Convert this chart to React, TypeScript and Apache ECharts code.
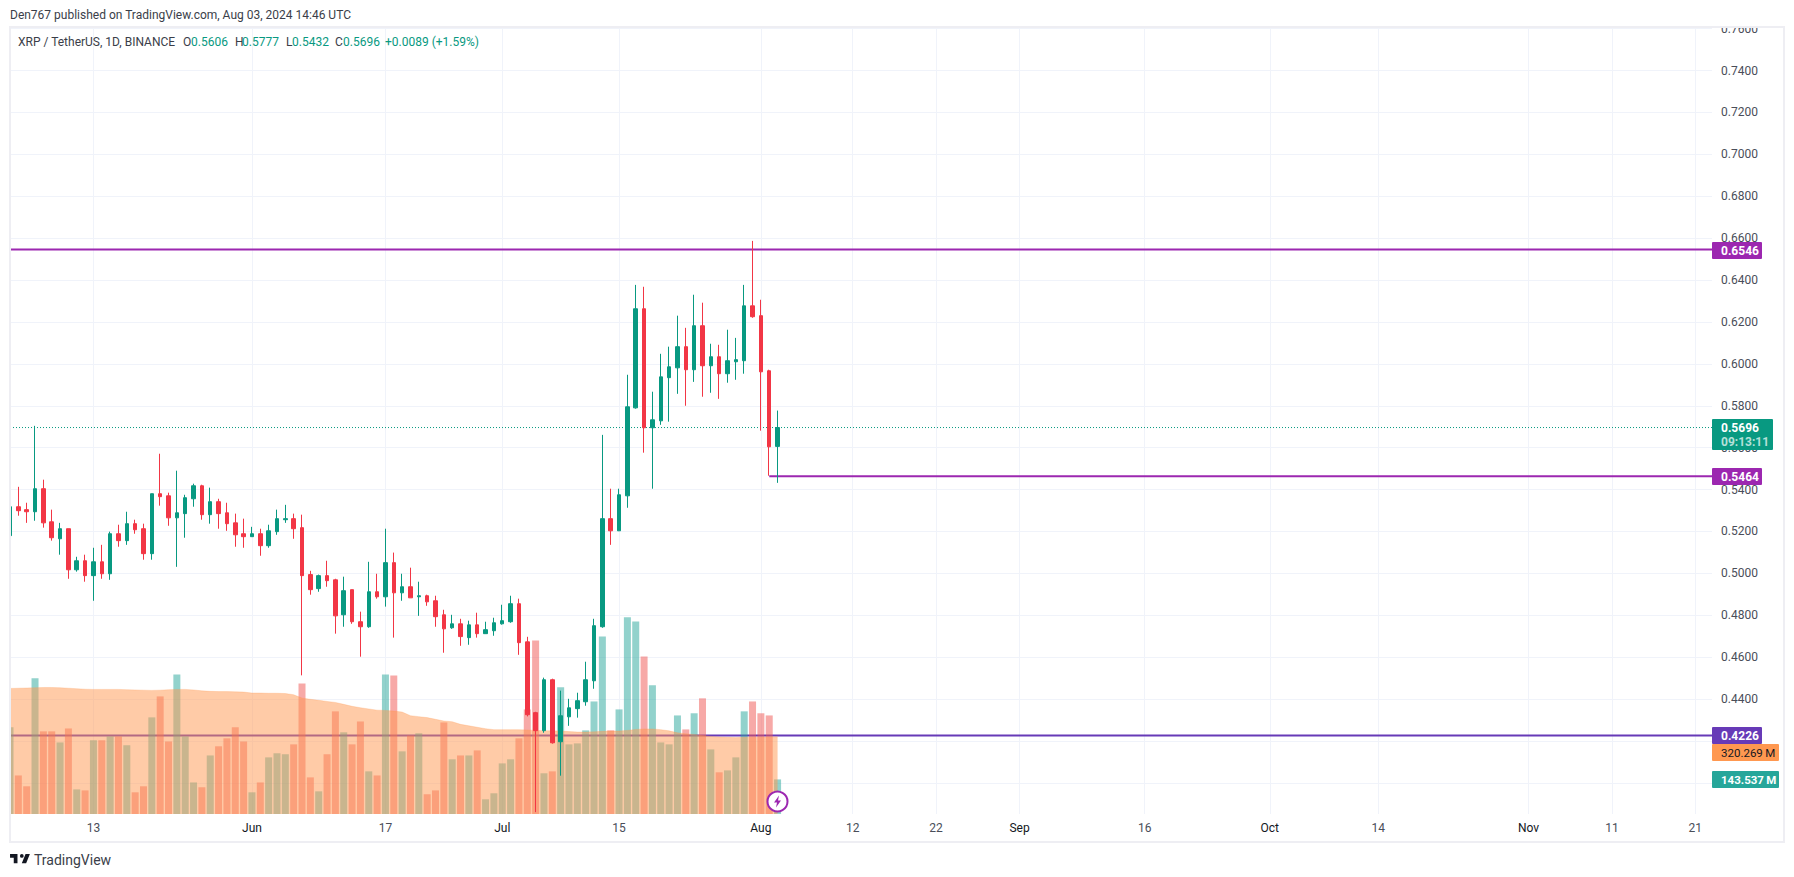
import React, { useEffect, useRef } from "react";
import * as echarts from "echarts";

const monthNames = ["2024-05", "2024-06", "2024-07", "2024-08", "2024-09", "2024-10", "2024-11"];
const monthDays = [31, 30, 31, 31, 30, 31, 30];
const categories: string[] = [];
monthNames.forEach((m, i) => {
  for (let d = 1; d <= monthDays[i]; d++) {
    if ((i === 0 && d < 3) || (i === 6 && d > 23)) continue;
    categories.push(`${m}-${String(d).padStart(2, "0")}`);
  }
});

const xTickLabels: Record<string, string> = {
  "2024-05-13": "13", "2024-06-01": "Jun", "2024-06-17": "17", "2024-07-01": "Jul", "2024-07-15": "15",
  "2024-08-01": "Aug", "2024-08-12": "12", "2024-08-22": "22", "2024-09-01": "Sep", "2024-09-16": "16",
  "2024-10-01": "Oct", "2024-10-14": "14", "2024-11-01": "Nov", "2024-11-11": "11", "2024-11-21": "21",
};

const openValues = [
  .5180,.5318,.5304,.5294,.5404,.5246,.5165,.5213,.5017,.5060,.4989,.5055,.4998,.5189,.5156,.5237,.5213,.5094,.5380,.5370,.5265,.5285,.5356,.5418,.5280,.5342,.5289,.5241,.5189,
  .5175,.5189,.5132,.5199,.5256,.5261,.5218,.4994,.4927,.4989,.4969,.4802,.4922,.4769,.4745,.4912,.4888,.5051,.4907,.4936,.4888,.4893,.4869,.4802,.4740,.4759,.4693,.4754,.4712,.4726,
  .4759,.4769,.4855,.4673,.4335,.4249,.4492,.4196,.4315,.4354,.4387,.4487,.4745,.5261,.5203,.5370,.5790,.6263,.5695,.5728,.5934,.5981,.6082,.5972,.6182,.5991,.6034,.5953,.6010,.6015,.6277,
  .6230,.5967,.5606,
];
const closeValues = [
  .5318,.5299,.5294,.5404,.5241,.5170,.5213,.5017,.5060,.4989,.5055,.4998,.5189,.5156,.5237,.5208,.5094,.5380,.5366,.5265,.5289,.5361,.5418,.5280,.5342,.5285,.5237,.5184,.5175,
  .5189,.5132,.5203,.5261,.5261,.5213,.4989,.4922,.4989,.4965,.4797,.4917,.4769,.4745,.4912,.4888,.5051,.4907,.4936,.4883,.4893,.4864,.4793,.4735,.4759,.4698,.4754,.4712,.4731,.4764,
  .4774,.4855,.4669,.4325,.4249,.4492,.4191,.4320,.4358,.4392,.4492,.4750,.5261,.5203,.5375,.5795,.6263,.5695,.5733,.5938,.5986,.6082,.5972,.6182,.5991,.6034,.5953,.6015,.6020,.6277,.6225,
  .5962,.5604,.5696,
];
const highValues = [
  .5370,.5413,.5337,.5704,.5447,.5304,.5241,.5213,.5079,.5089,.5122,.5136,.5199,.5232,.5294,.5256,.5237,.5380,.5571,.5385,.5490,.5375,.5428,.5423,.5409,.5356,.5337,.5285,.5261,
  .5222,.5213,.5232,.5304,.5327,.5285,.5280,.5012,.4994,.5060,.4974,.4984,.4922,.4817,.5055,.4998,.5213,.5099,.4998,.5027,.4960,.4898,.4893,.4826,.4802,.4783,.4774,.4812,.4769,.4788,
  .4850,.4893,.4879,.4697,.4339,.4502,.4497,.4440,.4401,.4430,.4578,.4783,.5661,.5404,.5404,.5948,.6377,.6368,.5867,.6048,.6082,.6230,.6172,.6330,.6292,.6096,.6091,.6163,.6124,.6377,.6587,
  .6306,.5972,.5777,
];
const lowValues = [
  .5146,.5275,.5241,.5251,.5218,.5156,.5089,.4974,.5008,.4960,.4869,.4974,.4969,.5127,.5136,.5189,.5065,.5065,.5323,.5227,.5031,.5170,.5318,.5256,.5237,.5213,.5203,.5127,.5122,
  .5175,.5084,.5122,.5184,.5241,.5165,.4513,.4898,.4912,.4936,.4712,.4745,.4759,.4602,.4740,.4879,.4841,.4693,.4869,.4883,.4797,.4845,.4745,.4621,.4735,.4654,.4659,.4693,.4712,.4702,
  .4755,.4764,.4611,.4317,.3860,.4239,.4187,.4034,.4272,.4311,.4368,.4449,.4740,.5136,.5203,.5313,.5786,.5576,.5404,.5709,.5724,.5857,.5800,.5914,.5843,.5862,.5833,.5910,.5924,.5953,.6220,
  .5681,.5466,.5432,
];
// volume, millions
const volumeValues = [
  360,160,115,563,343,343,297,355,102,98,306,306,322,322,285,90,115,401,488,301,579,322,131,111,243,281,314,360,301,
  90,131,235,252,248,289,542,152,94,248,426,339,289,384,177,160,579,575,260,326,335,82,98,380,227,243,243,264,61,86,
  210,227,314,434,720,169,177,526,289,293,347,467,737,347,434,816,799,654,534,297,289,409,351,418,480,268,173,181,235,426,467,
  418,409,143.537,
];
const volumeMA = [
  521,522,523,524,525,525,524,522,520,518,517,517,517,517,516,515,514,513,514,516,517,517,515,511,509,508,508,507,506,
  502,502,501,501,500,495,481,476,472,467,463,455,447,441,436,431,430,427,423,408,404,400,393,386,383,372,366,360,354,350,
  350,350,350,349,347,346,345,344,342,340,340,341,343,344,344,347,351,353,353,350,345,337,333,330,326,322,320,318,317,318,319,
  319,320,320.269,
];
const resistanceLevel = 0.6546;
const supportLevel = 0.5464;
const lowerLevel = 0.4226;
const lastPrice = 0.5696;

const FONT = "Roboto, sans-serif";
const TEXT = "#131722";
const UP = "#089981";
const DOWN = "#f23645";
const PURPLE = "#9c27b0";
const VIOLET = "#673ab7";
const GRID = "#f0f3fa";
const FRAME = "#eeeef3";

echarts.graphic.registerShape(
  "tvlogo",
  echarts.graphic.extendPath("M14 6H2v6h6v9h6V6zm14 15h-7l6-15h7l-6 15zm-7-9a3 3 0 1 0 0-6 3 3 0 0 0 0 6z", {})
);

const txt = (x: number, y: number, text: string, fill: string, fontSize = 12, fontWeight: any = "normal") => ({
  type: "text",
  x,
  y,
  z: 110,
  style: { text, fill, fontSize, fontWeight, fontFamily: FONT, textVerticalAlign: "middle", verticalAlign: "middle", align: "left" },
});
const box = (x: number, y: number, width: number, height: number, fill: string) => ({
  type: "rect",
  z: 105,
  shape: { x, y, width, height, r: 1 },
  style: { fill },
});
const hLine = (name: string, from: string, value: number, color: string, z: number, type: any = "solid", width = 2) => ({
  name,
  type: "line",
  xAxisIndex: 0,
  yAxisIndex: 0,
  z,
  symbol: "none",
  silent: true,
  lineStyle: { color, width, type },
  data: [[from, value], [categories[categories.length - 1], value]],
});

export default function App() {
  const ref = useRef<HTMLDivElement>(null);
  useEffect(() => {
    document.body.style.margin = "0";
    const chart = echarts.init(ref.current!, undefined, { renderer: "svg" });
    const first = categories[0];
    chart.setOption({
      animation: false,
      backgroundColor: "#ffffff",
      textStyle: { fontFamily: FONT },
      grid: [
        { left: 10, width: 1702, top: 28.7, height: 796 },
        { left: 10, width: 1702, top: 27, height: 787 },
      ],
      xAxis: [
        { type: "category", gridIndex: 0, data: categories, boundaryGap: false, show: false },
        {
          type: "category",
          gridIndex: 1,
          data: categories,
          boundaryGap: false,
          axisLine: { show: false },
          axisTick: { show: false },
          splitLine: {
            show: true,
            interval: (_i: number, v: string) => v in xTickLabels,
            lineStyle: { color: GRID, width: 1 },
          },
          axisLabel: {
            interval: (_i: number, v: string) => v in xTickLabels,
            formatter: (v: string) => {
              const t = xTickLabels[v];
              return /\d/.test(t) ? t : `{m|${t}}`;
            },
            color: "#4a4e59",
            fontSize: 12,
            fontFamily: FONT,
            margin: 8,
            rich: { m: { color: TEXT, fontSize: 12, fontFamily: FONT } },
          },
        },
      ],
      yAxis: [
        {
          type: "value",
          gridIndex: 0,
          position: "right",
          min: 0.38,
          max: 0.76,
          interval: 0.02,
          axisLine: { show: false },
          axisTick: { show: false },
          splitLine: { show: true, showMinLine: false, lineStyle: { color: GRID, width: 1 } },
          axisLabel: {
            showMinLabel: false,
            inside: false,
            margin: 9,
            align: "left",
            padding: [2, 0, 0, 0],
            color: "#4a4e59",
            fontSize: 12,
            fontFamily: FONT,
            formatter: (v: number) => v.toFixed(4),
          },
        },
        { type: "value", gridIndex: 1, min: 0, max: 3266, show: false },
      ],
      series: [
        hLine("Resistance 0.6546", first, resistanceLevel, PURPLE, 1),
        hLine("Support 0.5464", "2024-08-02", supportLevel, PURPLE, 1),
        hLine("Level 0.4226", first, lowerLevel, VIOLET, 1),
        hLine("Last price", first, lastPrice, UP, 1, [1, 2], 1),
        {
          name: "Volume",
          type: "bar",
          xAxisIndex: 1,
          yAxisIndex: 1,
          z: 2,
          barWidth: 7,
          data: volumeValues.map((v, i) => ({
            value: v,
            itemStyle: { color: closeValues[i] >= openValues[i] ? "rgba(38,166,154,0.5)" : "rgba(239,83,80,0.5)" },
          })),
        },
        {
          name: "Volume MA",
          type: "line",
          xAxisIndex: 1,
          yAxisIndex: 1,
          z: 3,
          symbol: "none",
          lineStyle: { color: "rgba(255,152,80,0.25)", width: 1 },
          areaStyle: { color: "#ff9850", opacity: 0.5 },
          data: volumeMA,
        },
        {
          name: "XRP / TetherUS",
          type: "candlestick",
          xAxisIndex: 0,
          yAxisIndex: 0,
          z: 4,
          barWidth: 4,
          clip: true,
          itemStyle: { color: UP, color0: DOWN, borderColor: UP, borderColor0: DOWN, borderWidth: 1 },
          data: openValues.map((o, i) => [o, closeValues[i], lowValues[i], highValues[i]]),
        },
      ],
      graphic: {
        z: 100,
        elements: [
          { type: "rect", z: 101, shape: { x: 1712, y: 0, width: 82, height: 26 }, style: { fill: "#fff" } },
          { type: "rect", z: 101, shape: { x: 0, y: 27, width: 10, height: 815 }, style: { fill: "#fff" } },
          { type: "rect", z: 102, shape: { x: 10, y: 27, width: 1774, height: 815 }, style: { fill: "none", stroke: FRAME, lineWidth: 2 } },
          txt(10, 15, "Den767 published on TradingView.com, Aug 03, 2024 14:46 UTC", "#3a3e49"),
          txt(18, 42, "XRP / TetherUS, 1D, BINANCE", "#3a3e49"),
          txt(183, 42, "O", "#3a3e49"), txt(191, 42, "0.5606", UP),
          txt(235, 42, "H", "#3a3e49"), txt(242, 42, "0.5777", UP),
          txt(286, 42, "L", "#3a3e49"), txt(292, 42, "0.5432", UP),
          txt(335, 42, "C", "#3a3e49"), txt(343, 42, "0.5696", UP),
          txt(385, 42, "+0.0089 (+1.59%)", UP),

          box(1712, 242, 50, 17, PURPLE), txt(1721, 250.5, "0.6546", "#fff", 12, "bold"),
          box(1712, 419, 61, 31, UP), txt(1721, 427.5, "0.5696", "#fff", 12, "bold"), txt(1721, 442, "09:13:11", "#b5e0d9", 12, "bold"),
          box(1712, 468, 50, 17, PURPLE), txt(1721, 476.5, "0.5464", "#fff", 12, "bold"),
          box(1712, 727, 50, 17, VIOLET), txt(1721, 735.5, "0.4226", "#fff", 12, "bold"),
          box(1712, 744, 67, 17, "#ff9850"), txt(1721, 752.5, "320.269\u2009M", TEXT, 11.5),
          box(1712, 771, 67, 17, "#26a69a"), txt(1721, 779.5, "143.537\u2009M", "#fff", 11.5, "bold"),

          { type: "circle", z: 108, shape: { cx: 777.5, cy: 801.5, r: 10 }, style: { fill: "#fff", stroke: PURPLE, lineWidth: 2 } },
          { type: "polygon", z: 109, shape: { points: [[779, 795.5], [774, 802.5], [777, 802.5], [776, 807.5], [781, 800.5], [778, 800.5]] }, style: { fill: PURPLE } },

          { type: "tvlogo", z: 110, x: 8.8, y: 850.3, scaleX: 0.62, scaleY: 0.62, style: { fill: TEXT } },
          txt(34, 859.5, "TradingView", "#3a3e49", 14),
        ],
      },
    });
    return () => chart.dispose();
  }, []);
  return <div ref={ref} style={{ position: "absolute", left: 0, top: 0, width: 1794, height: 877 }} />;
}
